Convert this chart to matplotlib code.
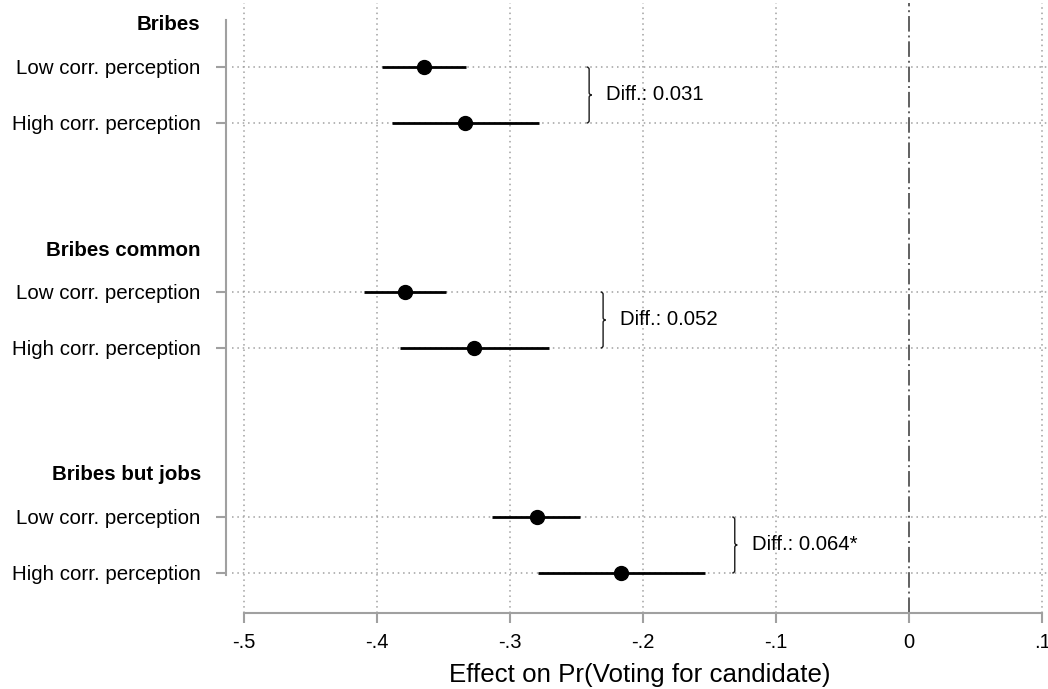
import matplotlib
matplotlib.use("Agg")
import matplotlib.pyplot as plt
from matplotlib.path import Path
from matplotlib.patches import PathPatch

plt.rcParams['font.family'] = ['Liberation Sans', 'DejaVu Sans']

groups = ["Bribes", "Bribes common", "Bribes but jobs"]
row_labels = ["Low corr. perception", "High corr. perception"]
low_est = [-0.365, -0.379, -0.280]
low_lo = [-0.396, -0.4095, -0.3135]
low_hi = [-0.333, -0.348, -0.247]
high_est = [-0.334, -0.327, -0.2165]
high_lo = [-0.389, -0.383, -0.2786]
high_hi = [-0.278, -0.2707, -0.1536]
diff_labels = ["Diff.: 0.031", "Diff.: 0.052", "Diff.: 0.064*"]
brace_x = [-0.2405, -0.230, -0.131]
xticks = [-0.5, -0.4, -0.3, -0.2, -0.1, 0.0, 0.1]
xtick_labels = ["-.5", "-.4", "-.3", "-.2", "-.1", "0", ".1"]

W, H = 1048, 689
fig = plt.figure(figsize=(W / 100, H / 100), dpi=100)
left_px, right_px, top_px, bot_px = 232, 1048, 3, 613
ax = fig.add_axes([left_px / W, 1 - bot_px / H, (right_px - left_px) / W, (bot_px - top_px) / H])

u = 56.25
y0 = 23
def ypos(px):
    return (px - y0) / u

ax.set_ylim(ypos(bot_px), ypos(top_px))
px_per_unit_x = 1330.0
ax.set_xlim(-0.5 - (244 - left_px) / px_per_unit_x, 0.1 + (right_px - 1042) / px_per_unit_x)

spine_c = '#a0a0a0'
grid_c = '#a0a0a0'

# spines first (set_position resets ticks)
for s in ('top', 'right'):
    ax.spines[s].set_visible(False)
ax.spines['left'].set_position(('outward', 4))
ax.spines['left'].set_bounds(ypos(20), ypos(575))
ax.spines['left'].set_color(spine_c)
ax.spines['left'].set_linewidth(1.5)
ax.spines['bottom'].set_bounds(-0.5, 0.1)
ax.spines['bottom'].set_color(spine_c)
ax.spines['bottom'].set_linewidth(1.5)

ax.tick_params(axis='y', length=7.5, width=1.5, color=spine_c, pad=11, labelsize=14.8)
ax.tick_params(axis='x', length=7.5, width=1.5, color=spine_c, pad=7, labelsize=14.5)

ytick_pos, ytick_lab, is_header = [], [], []
for g, name in enumerate(groups):
    base = 4 * g
    yh = base
    yl = base + 44 / u
    yhi = base + 100 / u
    ytick_pos += [yh, yl, yhi]
    ytick_lab += [name, row_labels[0], row_labels[1]]
    is_header += [True, False, False]
    for yy in (yl, yhi):
        ax.axhline(yy, color=grid_c, lw=1.1, ls=(0, (1, 2.5)), zorder=1)
    ax.plot([low_lo[g], low_hi[g]], [yl, yl], color='black', lw=2.0, zorder=3, solid_capstyle='butt')
    ax.plot([high_lo[g], high_hi[g]], [yhi, yhi], color='black', lw=2.0, zorder=3, solid_capstyle='butt')
    ax.plot([low_est[g]], [yl], 'o', color='black', ms=10, zorder=4)
    ax.plot([high_est[g]], [yhi], 'o', color='black', ms=10, zorder=4)

    bx = brace_x[g]
    dx = 2.5 / px_per_unit_x
    dy = 2.5 / u
    ym = (yl + yhi) / 2
    verts = [
        (bx - dx, yl), (bx, yl), (bx, yl + dy),
        (bx, ym - dy), (bx, ym), (bx + dx, ym),
        (bx, ym), (bx, ym + dy),
        (bx, yhi - dy), (bx, yhi), (bx - dx, yhi),
    ]
    codes = [Path.MOVETO, Path.CURVE3, Path.CURVE3,
             Path.LINETO, Path.CURVE3, Path.CURVE3,
             Path.CURVE3, Path.CURVE3,
             Path.LINETO, Path.CURVE3, Path.CURVE3]
    ax.add_patch(PathPatch(Path(verts, codes), fill=False, ec='#1a1a1a', lw=1.0, zorder=3))
    ax.text(bx + 17 / px_per_unit_x, ym, diff_labels[g], fontsize=14.7, va='center', ha='left', zorder=5)

for xt in xticks:
    if xt == 0:
        ax.axvline(xt, color='#606060', lw=1.4, ls=(0, (8, 2, 1, 2)), zorder=2)
    else:
        ax.axvline(xt, color=grid_c, lw=1.1, ls=(0, (1, 2.5)), zorder=1)

ax.set_xticks(xticks)
ax.set_xticklabels(xtick_labels)
ax.set_yticks(ytick_pos)
ax.set_yticklabels(ytick_lab)
for tk, hdr in zip(ax.yaxis.get_major_ticks(), is_header):
    if hdr:
        tk.tick1line.set_visible(False)
        tk.label1.set_fontweight('bold')

ax.set_xlabel("Effect on Pr(Voting for candidate)", fontsize=18.6, labelpad=8)
fig.patch.set_facecolor('white')
fig.savefig("out.png", dpi=100)
